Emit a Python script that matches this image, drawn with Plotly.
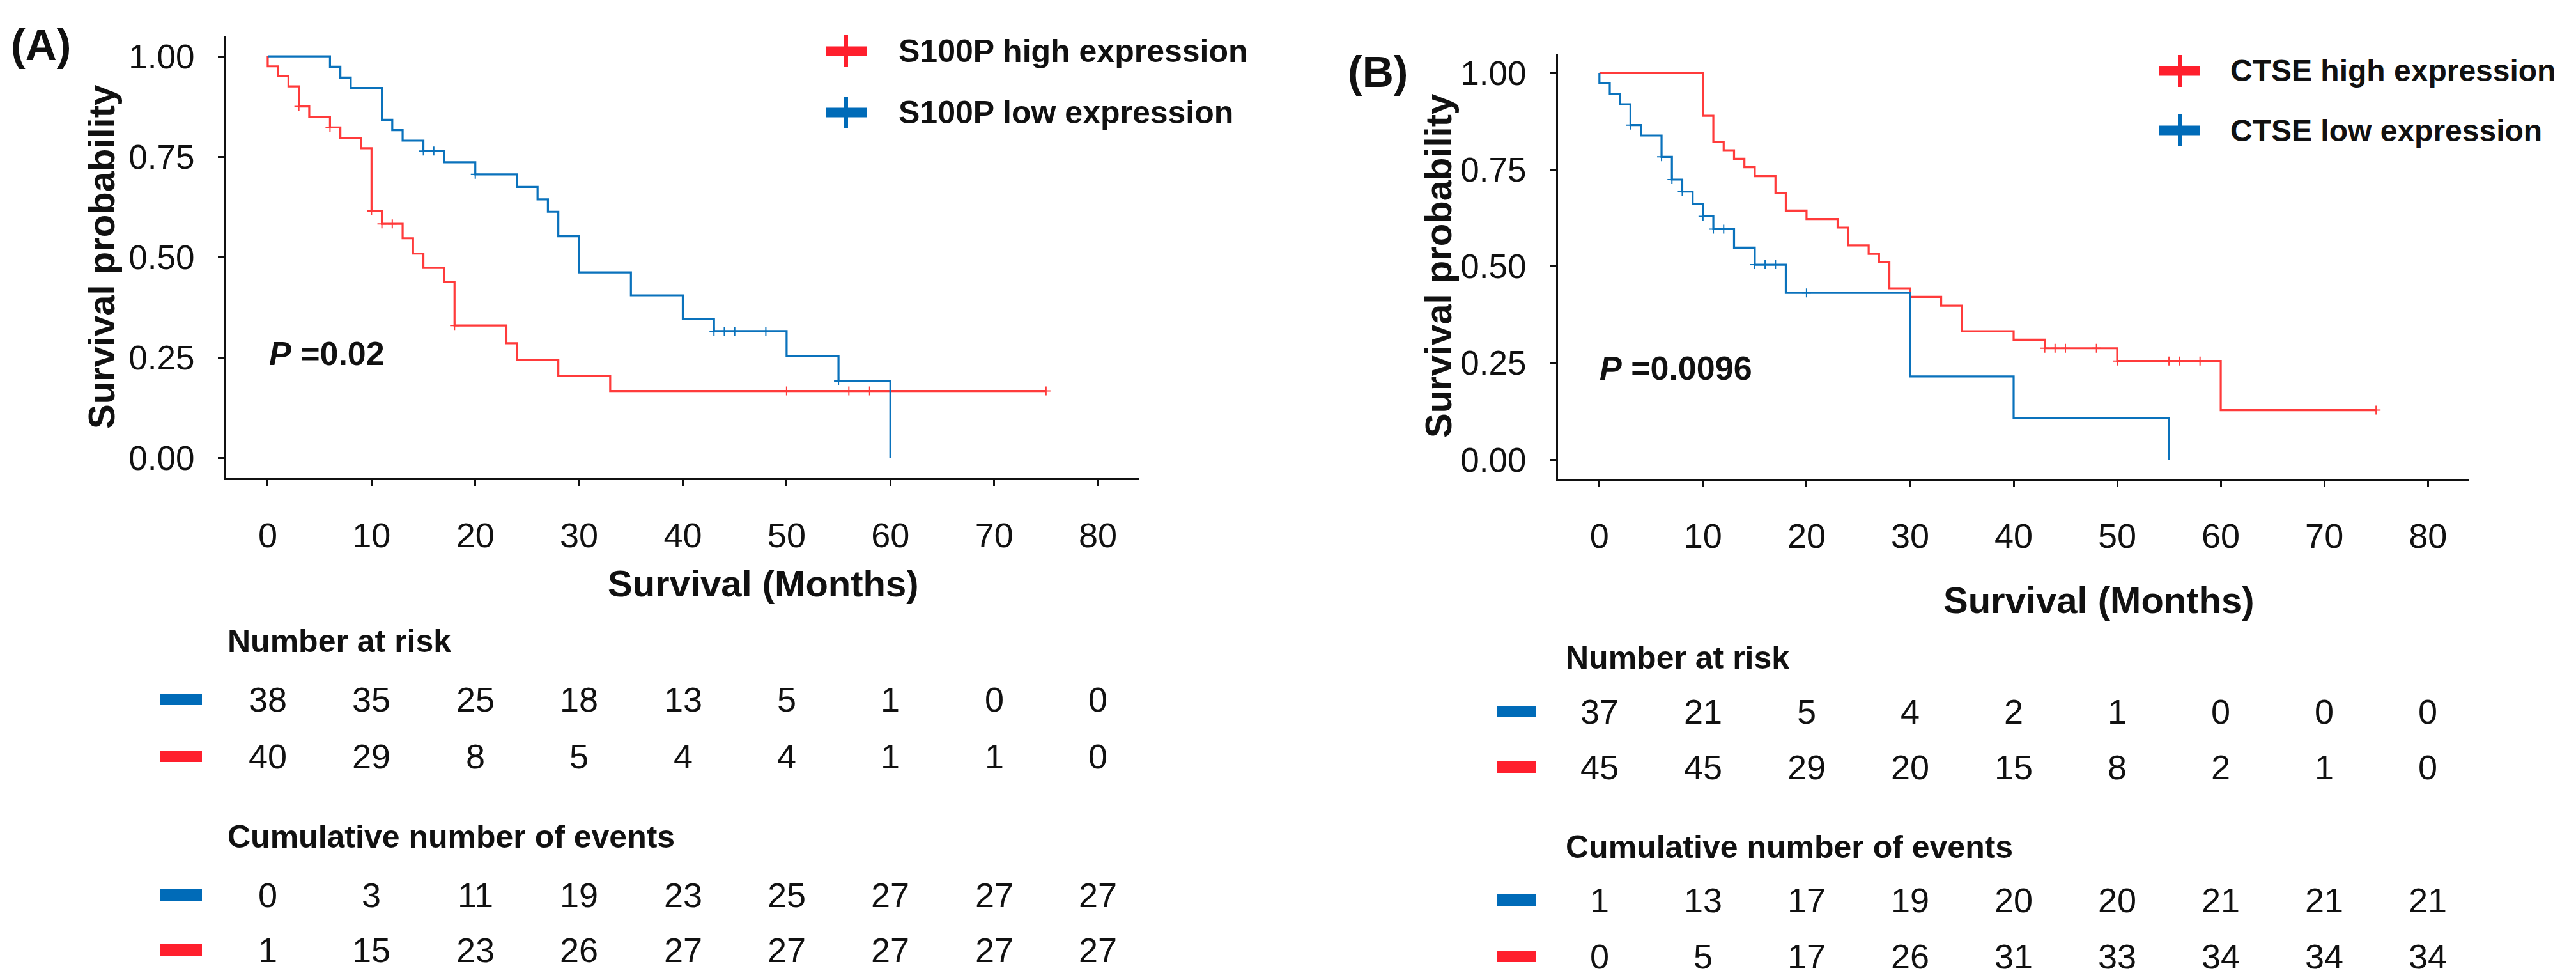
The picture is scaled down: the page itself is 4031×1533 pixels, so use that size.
import plotly.graph_objects as go

W, H = 4031, 1533

# ---------------- data ----------------
# Panel A: S100P
a_low_times = [0, 6, 7, 8, 11, 12, 13, 15, 17, 20, 24, 26, 27, 28, 30, 35, 40, 43, 50, 55, 60]
a_low_surv = [1.0, 0.974, 0.947, 0.921, 0.842, 0.816, 0.790, 0.764, 0.736, 0.706, 0.675, 0.644,
              0.613, 0.552, 0.462, 0.405, 0.346, 0.316, 0.254, 0.192, 0.0]
a_low_censor = [15, 16, 20, 43, 44, 45, 48, 55]

a_high_times = [0, 0, 1, 2, 3, 4, 6, 7, 9, 10, 11, 13, 14, 15, 17, 18, 23, 24, 28, 33, 75]
a_high_surv = [1.0, 0.975, 0.950, 0.925, 0.875, 0.849, 0.823, 0.796, 0.771, 0.615, 0.583, 0.547,
               0.509, 0.473, 0.438, 0.330, 0.286, 0.244, 0.205, 0.167, 0.167]
a_high_censor = [3, 6, 10, 11, 12, 18, 50, 56, 58, 75]

# Panel B: CTSE
b_high_times = [0, 10, 11, 12, 13, 14, 15, 17, 18, 20, 23, 24, 26, 27, 28, 30, 33, 35, 40, 43, 50, 60, 75]
b_high_surv = [1.0, 0.889, 0.822, 0.800, 0.778, 0.756, 0.733, 0.689, 0.644, 0.622, 0.600, 0.554,
               0.532, 0.510, 0.443, 0.421, 0.398, 0.332, 0.310, 0.288, 0.255, 0.128, 0.128]
b_high_censor = [43, 44, 45, 48, 50, 55, 56, 58, 75]

b_low_times = [0, 0, 1, 2, 3, 4, 6, 7, 8, 9, 10, 11, 13, 15, 18, 30, 40, 55]
b_low_surv = [1.0, 0.973, 0.946, 0.919, 0.865, 0.838, 0.783, 0.724, 0.693, 0.661, 0.629, 0.596,
              0.548, 0.504, 0.431, 0.215, 0.108, 0.0]
b_low_censor = [3, 6, 7, 8, 10, 11, 12, 15, 16, 17, 20]

table_times = [0, 10, 20, 30, 40, 50, 60, 70, 80]
a_risk_low = [38, 35, 25, 18, 13, 5, 1, 0, 0]
a_risk_high = [40, 29, 8, 5, 4, 4, 1, 1, 0]
a_events_low = [0, 3, 11, 19, 23, 25, 27, 27, 27]
a_events_high = [1, 15, 23, 26, 27, 27, 27, 27, 27]
b_risk_low = [37, 21, 5, 4, 2, 1, 0, 0, 0]
b_risk_high = [45, 45, 29, 20, 15, 8, 2, 1, 0]
b_events_low = [1, 13, 17, 19, 20, 20, 21, 21, 21]
b_events_high = [0, 5, 17, 26, 31, 33, 34, 34, 34]

y_ticks = [0, 0.25, 0.5, 0.75, 1.0]

# ---------------- style ----------------
RED_LINE = "#FF3B3B"
BLUE_LINE = "#0A72BC"
RED_KEY = "#FF1F2D"
BLUE_KEY = "#006BB8"
BLACK = "#111111"
NARROW = "Liberation Sans Narrow, Arial Narrow, Liberation Sans, Arial, sans-serif"
SANS = "Liberation Sans, Arial, sans-serif"


def step_value(times, surv, t):
    v = surv[0]
    for ti, si in zip(times, surv):
        if ti <= t:
            v = si
    return v


def px_x(p):
    return p / W


def px_y(p):
    return 1 - p / H


fig = go.Figure()


def add_curve(times, surv, censor, color, xa, ya):
    fig.add_trace(go.Scatter(x=times, y=surv, mode="lines", line=dict(color=color, width=3.2, shape="hv"),
                             xaxis=xa, yaxis=ya, hoverinfo="skip"))
    fig.add_trace(go.Scatter(x=censor, y=[step_value(times, surv, t) for t in censor], mode="markers",
                             marker=dict(symbol="cross-thin", size=10, line=dict(color=color, width=2)),
                             xaxis=xa, yaxis=ya, hoverinfo="skip"))


add_curve(a_high_times, a_high_surv, a_high_censor, RED_LINE, "x", "y")
add_curve(a_low_times, a_low_surv, a_low_censor, BLUE_LINE, "x", "y")
add_curve(b_high_times, b_high_surv, b_high_censor, RED_LINE, "x2", "y2")
add_curve(b_low_times, b_low_surv, b_low_censor, BLUE_LINE, "x2", "y2")

axis_common = dict(showline=True, linewidth=3, linecolor=BLACK, ticks="outside", ticklen=10, tickwidth=3,
                   tickcolor=BLACK, showgrid=False, zeroline=False, mirror=False)

fig.update_layout(
    width=W, height=H, margin=dict(l=0, r=0, t=0, b=0),
    paper_bgcolor="white", plot_bgcolor="white", showlegend=False,
    xaxis=dict(domain=[px_x(346), px_x(1775)], range=[-4, 84], tickvals=table_times, anchor="y",
               tickfont=dict(family=NARROW, size=54, color=BLACK), ticklabelstandoff=30, **axis_common),
    yaxis=dict(domain=[px_y(740), px_y(48.6)], range=[-0.05, 1.05], tickvals=y_ticks, tickformat=".2f",
               anchor="x", tickfont=dict(family=NARROW, size=53, color=BLACK), ticklabelstandoff=26,
               **axis_common),
    xaxis2=dict(domain=[px_x(2430), px_x(3856)], range=[-4, 84], tickvals=table_times, anchor="y2",
                tickfont=dict(family=NARROW, size=54, color=BLACK), ticklabelstandoff=30, **axis_common),
    yaxis2=dict(domain=[px_y(741.25), px_y(75.75)], range=[-0.05, 1.05], tickvals=y_ticks, tickformat=".2f",
                anchor="x2", tickfont=dict(family=NARROW, size=53, color=BLACK), ticklabelstandoff=26,
                **axis_common),
)

ann = []
shapes = []


def text(x, y, s, size, family=SANS, xanchor="center", xref="paper", angle=0, color=BLACK):
    ann.append(dict(x=x, y=y, xref=xref, yref="paper", text=s, showarrow=False, xanchor=xanchor,
                    yanchor="middle", textangle=angle, font=dict(family=family, size=size, color=color)))


# panel labels
text(px_x(56), px_y(62), "<b>(A)</b>", 68)
text(px_x(2148), px_y(104), "<b>(B)</b>", 68)

# y titles
text(px_x(150), px_y(394), "<b>Survival probability</b>", 58, angle=-90)
text(px_x(2242), px_y(408), "<b>Survival probability</b>", 58, angle=-90)

# x titles
text(px_x(1186), px_y(904), "<b>Survival (Months)</b>", 58, family=NARROW)
text(px_x(3276), px_y(930), "<b>Survival (Months)</b>", 58, family=NARROW)

# p values
text(px_x(411), px_y(545), "<b><i>P</i> =0.02</b>", 52, xanchor="left")
text(px_x(2493), px_y(568), "<b><i>P</i> =0.0096</b>", 52, xanchor="left")


# legends
def legend_key(cx, cy, color):
    shapes.append(dict(type="rect", xref="paper", yref="paper", x0=px_x(cx - 32), x1=px_x(cx + 32),
                       y0=px_y(cy + 7.5), y1=px_y(cy - 7.5), fillcolor=color, line=dict(width=0)))
    shapes.append(dict(type="rect", xref="paper", yref="paper", x0=px_x(cx - 3), x1=px_x(cx + 3),
                       y0=px_y(cy + 25), y1=px_y(cy - 25), fillcolor=color, line=dict(width=0)))


legend_key(1316, 72, RED_KEY)
legend_key(1316, 168, BLUE_KEY)
text(px_x(1396), px_y(72), "<b>S100P high expression</b>", 50, xanchor="left")
text(px_x(1396), px_y(168), "<b>S100P low expression</b>", 50, xanchor="left")

legend_key(3403, 103, RED_KEY)
legend_key(3403, 196, BLUE_KEY)
text(px_x(3480), px_y(103), "<b>CTSE high expression</b>", 48, xanchor="left")
text(px_x(3480), px_y(196), "<b>CTSE low expression</b>", 48, xanchor="left")


# risk tables
def swatch(x0, x1, cy, color):
    shapes.append(dict(type="rect", xref="paper", yref="paper", x0=px_x(x0), x1=px_x(x1),
                       y0=px_y(cy + 9), y1=px_y(cy - 9), fillcolor=color, line=dict(width=0)))


def table_headers(head_x, h1, h2):
    text(px_x(head_x), px_y(h1), "<b>Number at risk</b>", 50, family=NARROW, xanchor="left")
    text(px_x(head_x), px_y(h2), "<b>Cumulative number of events</b>", 50, family=NARROW, xanchor="left")


def table_row(xref, vals, cy, sw, color):
    swatch(sw[0], sw[1], cy, color)
    for t, v in zip(table_times, vals):
        text(t, px_y(cy), str(v), 54, family=NARROW, xref=xref)


table_headers(346, 995, 1301)
table_row("x", a_risk_low, 1086, (243, 308), BLUE_KEY)
table_row("x", a_risk_high, 1175, (243, 308), RED_KEY)
table_row("x", a_events_low, 1392, (243, 308), BLUE_KEY)
table_row("x", a_events_high, 1478, (243, 308), RED_KEY)

table_headers(2440, 1021, 1317)
table_row("x2", b_risk_low, 1105, (2334, 2396), BLUE_KEY)
table_row("x2", b_risk_high, 1192, (2334, 2396), RED_KEY)
table_row("x2", b_events_low, 1400, (2334, 2396), BLUE_KEY)
table_row("x2", b_events_high, 1488, (2334, 2396), RED_KEY)

fig.update_layout(annotations=ann, shapes=shapes)
fig.write_html("out.html")
